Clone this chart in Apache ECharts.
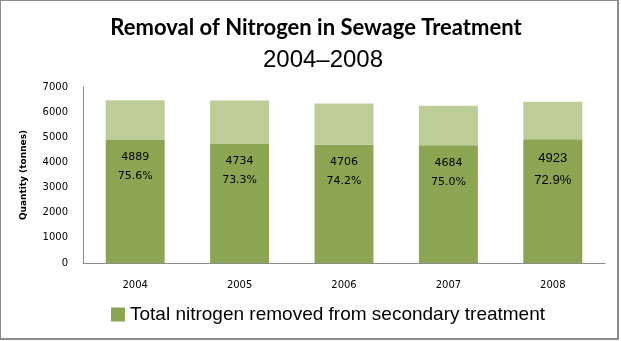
<!DOCTYPE html>
<html><head><meta charset="utf-8">
<script src="https://cdn.jsdelivr.net/npm/echarts@6/dist/echarts.min.js"></script>
<style>
html,body{margin:0;padding:0;background:#fff;}
#frame{position:absolute;left:0;top:0;width:616px;height:337px;border:1px solid #8c8c8c;border-width:1px 2px 2px 1px;}
#chart{position:absolute;left:0;top:0;width:621px;height:341px;}
</style></head>
<body>
<div id="frame"></div>
<div id="chart"></div>
<script>
const years = ['2004', '2005', '2006', '2007', '2008'];
const removed = [4889, 4734, 4706, 4684, 4923];
const removedPct = ['75.6%', '73.3%', '74.2%', '75.0%', '72.9%'];
const remainder = [1580, 1726, 1636, 1566, 1487];
const yTicks = [0, 1000, 2000, 3000, 4000, 5000, 6000, 7000];

const chart = echarts.init(document.getElementById('chart'), null, {renderer: 'canvas'});
const dark = '#8ba552';
const light = '#bccd98';

chart.setOption({
  animation: false,
  backgroundColor: 'transparent',
  title: [
    {text: 'Removal of Nitrogen in Sewage Treatment', left: 311, top: 12, textAlign: 'center',
     textStyle: {fontFamily: 'Lato', fontWeight: 'bold', fontSize: 22, color: '#000'}},
    {text: '2004\u20132008', left: 318, top: 43, textAlign: 'center',
     textStyle: {fontFamily: 'Liberation Sans', fontWeight: 'normal', fontSize: 24, color: '#000'}}
  ],
  legend: {
    data: [{name: 'Total nitrogen removed from secondary treatment', icon: 'rect'}],
    left: 106, top: 300, itemWidth: 14, itemHeight: 14, itemGap: 10,
    textStyle: {fontFamily: 'Liberation Sans', fontSize: 19, color: '#000'}
  },
  grid: {left: 83, right: 16, top: 87, bottom: 78, containLabel: false},
  xAxis: {
    type: 'category', data: years,
    axisLine: {lineStyle: {color: '#8c8c8c', width: 1}},
    axisTick: {show: false},
    axisLabel: {fontFamily: 'DejaVu Sans', fontSize: 10, color: '#000', margin: 17}
  },
  yAxis: {
    type: 'value', min: yTicks[0], max: yTicks[yTicks.length - 1], interval: yTicks[1] - yTicks[0],
    name: 'Quantity (tonnes)', nameLocation: 'middle', nameRotate: 90, nameGap: 55,
    nameTextStyle: {fontFamily: 'DejaVu Sans', fontWeight: 'bold', fontSize: 9, color: '#000'},
    axisLine: {show: true, lineStyle: {color: '#8c8c8c', width: 1}},
    axisTick: {show: false},
    splitLine: {show: false},
    axisLabel: {fontFamily: 'DejaVu Sans', fontSize: 10, color: '#000', margin: 15, formatter: v => String(v)}
  },
  series: [
    {
      name: 'Total nitrogen removed from secondary treatment', type: 'bar', stack: 'n',
      barWidth: '56.5%', itemStyle: {color: dark},
      data: removed.map((v, i) => ({
        value: v,
        label: i === 4 ? {rich: {v: {fontFamily: 'Liberation Sans', fontSize: 13, lineHeight: 22, color: '#000'}}} : undefined
      })),
      label: {
        show: true, position: 'insideTop', distance: 8,
        formatter: p => '{v|' + removed[p.dataIndex] + '}\n{v|' + removedPct[p.dataIndex] + '}',
        rich: {v: {fontFamily: 'DejaVu Sans', fontSize: 11, lineHeight: 19, color: '#000'}}
      }
    },
    {
      name: 'Remainder', type: 'bar', stack: 'n', barWidth: '56.5%',
      itemStyle: {color: light}, data: remainder
    }
  ]
});
</script>
</body></html>
